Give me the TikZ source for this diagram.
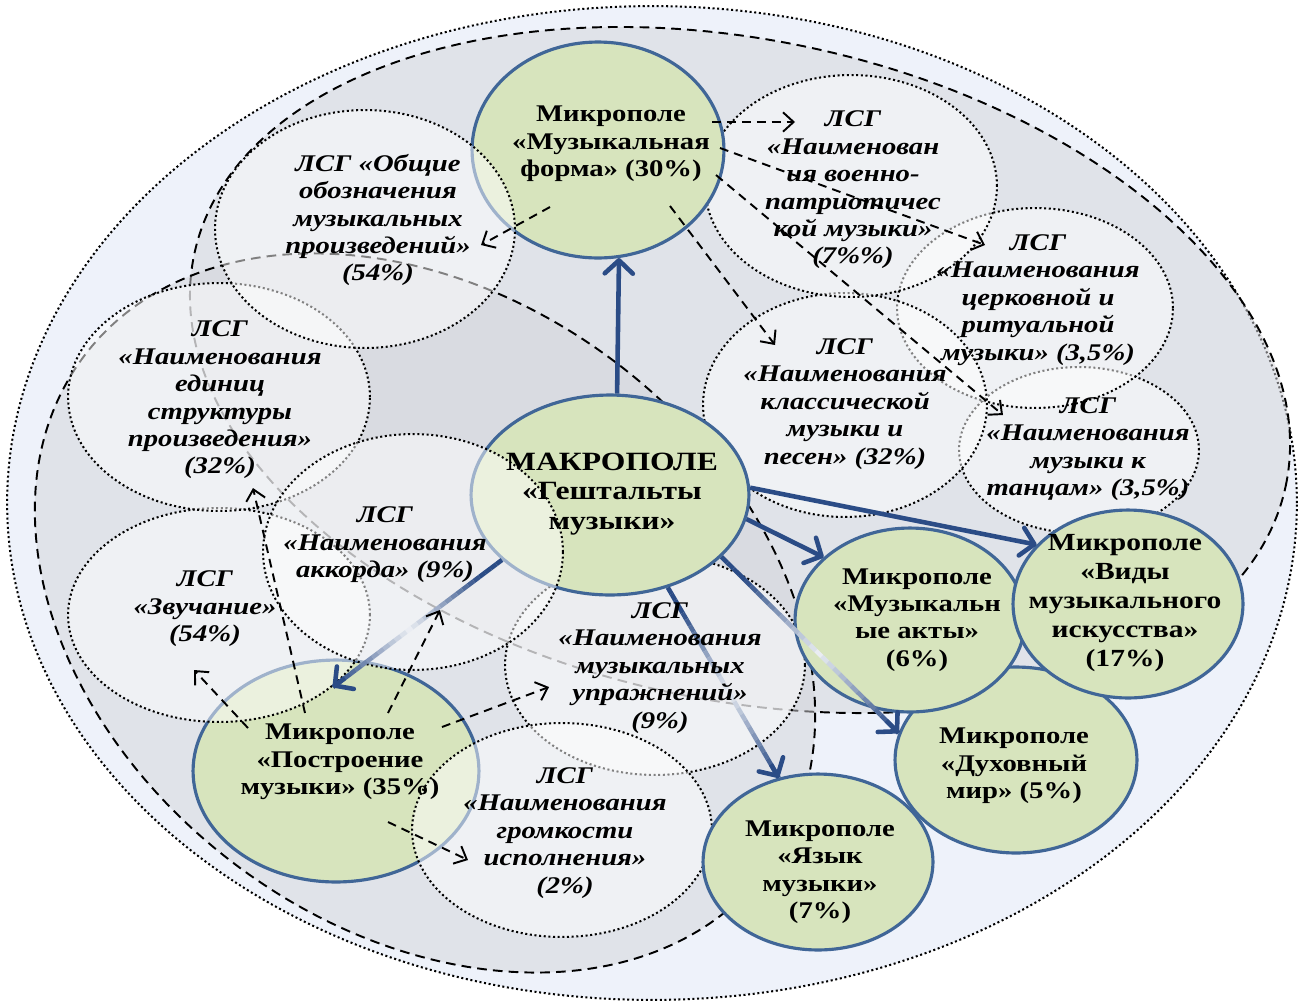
\documentclass[tikz,border=0pt]{standalone}
\usepackage{fontspec}
\setmainfont{Liberation Serif}[FakeStretch=1.2]
\usetikzlibrary{shapes.geometric,arrows.meta,calc}

\definecolor{bgblue}{HTML}{EEF2FA}
\definecolor{zonegray}{HTML}{D4D5DA}
\definecolor{fieldgreen}{HTML}{D7E4BD}
\definecolor{fieldedge}{HTML}{406697}
\definecolor{arrowblue}{HTML}{2B4C86}

\tikzset{
  esize/.style 2 args={minimum width=#1*0.04cm, minimum height=#2*0.04cm},
  lsg/.style={ellipse, inner sep=0pt, draw=black, line width=1.15pt,
    dash pattern=on 1.15pt off 1.5pt, fill=white, fill opacity=0.5},
  micro/.style={ellipse, inner sep=0pt, draw=fieldedge, line width=1.8pt, fill=fieldgreen},
  zone/.style={fill=zonegray, fill opacity=0.5, draw=black, line width=1.1pt,
    dash pattern=on 5.5pt off 3.5pt},
  mtext/.style={align=center, inner sep=0pt, font=\bfseries\fontsize{13.6}{15.6}\selectfont},
  ltext/.style={align=center, inner sep=0pt, font=\bfseries\itshape\fontsize{13.6}{15.6}\selectfont},
  mainarrow/.style={draw=arrowblue, line width=2.6pt,
    -{Straight Barb[length=7.5pt,width=16pt,round]}},
  subarrow/.style={draw=black, line width=1.1pt, dash pattern=on 5pt off 3.5pt,
    -{Straight Barb[length=6pt,width=11pt]}},
}

% thick connector that fades to a pale tint in its middle
\newcommand\fadedlink[2]{%
  \foreach \k in {0,...,29}{%
    \pgfmathsetmacro\segA{\k/30}%
    \pgfmathsetmacro\segB{(\k+1)/30}%
    \pgfmathsetmacro\mixpct{int(min(100,10+90*abs((\k+0.5)/30-0.55)/0.42))}%
    \draw[draw=arrowblue!\mixpct!white, line width=2.6pt]
      ($(#1)!\segA!(#2)$) -- ($(#1)!\segB!(#2)$);
  }%
  \draw[mainarrow] ($(#1)!0.93!(#2)$) -- (#2);
}

\begin{document}
\begin{tikzpicture}[x=0.02cm, y=-0.02cm]
\useasboundingbox (0,0) rectangle (1301,1005);
\fill[white] (0,0) rectangle (1301,1005);

% outer field
\draw[fill=bgblue, draw=black, line width=1.15pt, dash pattern=on 1.15pt off 1.5pt]
  (652,503) ellipse [x radius=12.9cm, y radius=9.94cm];

% two overlapping zones
\draw[zone, rotate around={-12:(740,370)}] (740,370) ellipse [x radius=11.16cm, y radius=6.6cm];
\draw[zone, rotate around={-37:(425,613)}] (425,613) ellipse [x radius=8.54cm, y radius=6.3cm];

% lexical-semantic groups, right side
\node[lsg, esize={120}{83}]  (dance)   at (1079,450) {};
\node[lsg, esize={138}{100}] (church)  at (1035,308) {};
\node[lsg, esize={142}{112}] (classic) at (845,405) {};
\node[lsg, esize={146}{111}] (mil)     at (851,186) {};
\node[lsg, esize={150}{110}] (upr)     at (655,665) {};

% microfields under the groups
\node[micro, esize={126}{108}] (form)  at (598,150) {};
\node[micro, esize={139}{100}] (macro) at (610,495) {};
\node[micro, esize={143}{111}] (postr) at (336,771) {};

% lexical-semantic groups, left side
\node[lsg, esize={151}{107}] (zvuch) at (219,615) {};
\node[lsg, esize={151}{114}] (edin)  at (219,397) {};
\node[lsg, esize={150}{119}] (obsh)  at (365,229) {};
\node[lsg, esize={150}{118}] (akk)   at (413,552) {};
\node[lsg, esize={150}{107}] (gromk) at (562,830) {};

% microfields on top
\node[micro, esize={121}{93}] (duh)   at (1016,760) {};
\node[micro, esize={115}{88}] (yazyk) at (818,862) {};
\node[micro, esize={115}{92}] (akty)  at (910,620) {};
\node[micro, esize={115}{94}] (vidy)  at (1128,604) {};

% links from the macrofield
\draw[mainarrow] (macro.86) -- (form.-79);
\draw[mainarrow] (macro.3) -- (vidy.147);
\draw[mainarrow] (macro.-10) -- (akty.144);
\fadedlink{macro.-29}{duh.167}
\fadedlink{macro.-58}{yazyk.115}
\fadedlink{macro.211}{$(postr.center)+(-3,-84)$}

% labels
\node[mtext] (formT) at (611,144) {Микрополе\\«Музыкальная\\форма» (30\%)};
\node[align=center, inner sep=0pt, font=\bfseries\fontsize{15}{17}\selectfont]
  (macroT) at (612,494) {МАКРОПОЛЕ\\«Гештальты\\музыки»};
\node[mtext] (postrT) at (340,762) {Микрополе\\«Построение\\музыки» (35\%)};
\node[mtext] (aktyT) at (917,620) {Микрополе\\«Музыкальн\\ые акты»\\(6\%)};
\node[align=center, inner sep=0pt, font=\bfseries\fontsize{14}{16.4}\selectfont]
  (vidyT) at (1125,603) {Микрополе\\«Виды\\музыкального\\искусства»\\(17\%)};
\node[mtext] (duhT) at (1014,766) {Микрополе\\«Духовный\\мир» (5\%)};
\node[mtext] (yazykT) at (820,872) {Микрополе\\«Язык\\музыки»\\(7\%)};

\node[ltext] (obshT) at (378,220) {ЛСГ «Общие\\обозначения\\музыкальных\\произведений»\\(54\%)};
\node[ltext] (edinT) at (220,400) {ЛСГ\\«Наименования\\единиц\\структуры\\произведения»\\(32\%)};
\node[ltext] (zvuchT) at (205,609) {ЛСГ\\«Звучание»\\(54\%)};
\node[ltext] (akkT) at (385,545) {ЛСГ\\«Наименования\\аккорда» (9\%)};
\node[ltext] (uprT) at (660,668) {ЛСГ\\«Наименования\\музыкальных\\упражнений»\\(9\%)};
\node[ltext] (gromkT) at (565,833) {ЛСГ\\«Наименования\\громкости\\исполнения»\\(2\%)};
\node[ltext] (milT) at (853,190) {ЛСГ\\«Наименован\\ия военно-\\патриотичес\\кой музыки»\\(7\%\%)};
\node[ltext] (churchT) at (1038,300) {ЛСГ\\«Наименования\\церковной и\\ритуальной\\музыки» (3,5\%)};
\node[ltext] (classicT) at (845,404) {ЛСГ\\«Наименования\\классической\\музыки и\\песен» (32\%)};
\node[ltext] (danceT) at (1088,449) {ЛСГ\\«Наименования\\музыки к\\танцам» (3,5\%)};

% links from microfields to their groups
\draw[subarrow] ($(form.center)+(114,-28)$) -- ($(mil.center)+(-56,-64)$);
\draw[subarrow] ($(form.center)+(122,-2)$) -- ($(church.center)+(-50,-63)$);
\draw[subarrow] ($(form.center)+(118,25)$) -- ($(dance.center)+(-76,-35)$);
\draw[subarrow] ($(form.center)+(72,56)$) -- ($(classic.center)+(-70,-60)$);
\draw[subarrow] ($(form.center)+(-48,57)$) -- ($(obsh.center)+(116,16)$);

\draw[subarrow] ($(postr.center)+(-31,-58)$) -- ($(edin.center)+(34,91)$);
\draw[subarrow] ($(postr.center)+(-88,-43)$) -- ($(zvuch.center)+(-25,55)$);
\draw[subarrow] ($(postr.center)+(52,-58)$) -- ($(akk.center)+(27,58)$);
\draw[subarrow] ($(postr.center)+(106,-44)$) -- ($(upr.center)+(-106,22)$);
\draw[subarrow] ($(postr.center)+(52,51)$) -- ($(gromk.center)+(-94,30)$);
\end{tikzpicture}
\end{document}
